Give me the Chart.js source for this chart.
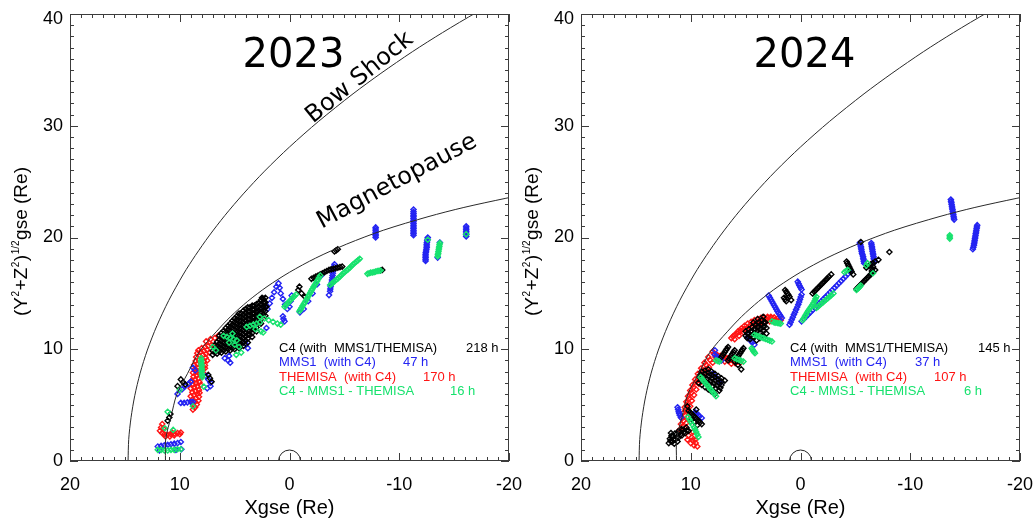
<!DOCTYPE html>
<html><head><meta charset="utf-8">
<script src="https://cdn.jsdelivr.net/npm/chart.js@4.4.0/dist/chart.umd.min.js"></script>
<style>
html,body{margin:0;padding:0;background:#fff;}
#wrap{position:relative;width:1035px;height:531px;overflow:hidden;background:#fff;}
.c{position:absolute;top:0;}
</style></head><body>
<div id="wrap">
<canvas id="c2023" class="c" width="535" height="531" style="left:0"></canvas>
<canvas id="c2024" class="c" width="524" height="531" style="left:511px"></canvas>
</div>
<script>
// ---------- data ----------
const xTickValues = [20, 10, 0, -10, -20];
const yTickValues = [0, 10, 20, 30, 40];
const xRange = [-20, 20];
const yRange = [0, 40];
const earthRadius = 1;
const years = ['2023', '2024'];
const seriesNames = ['C4 (with  MMS1/THEMISA)', 'MMS1  (with C4)', 'THEMISA  (with C4)', 'C4 - MMS1 - THEMISA'];
const hours2023 = [218, 47, 170, 16];
const hours2024 = [145, 37, 107, 6];

const bowShock = [[14.71,0],[14.65,1.93],[14.44,3.87],[14.1,5.84],[13.61,7.86],[12.95,9.93],[12.09,12.09],[11.01,14.35],[9.66,16.73],[8.58,18.39],[7.33,20.14],[5.89,21.97],[4.21,23.9],[2.27,25.94],[0,28.1],[-2.66,30.4],[-5.79,32.86],[-8.33,34.69],[-11.19,36.62],[-13.95,38.34],[-17.04,40.14],[-20.49,42.02]];
const magnetopause = [[11.3,0],[11.28,1.99],[10.8,3.93],[10.28,5.93],[9.3,7.81],[8.21,9.79],[6.68,11.56],[5.36,12.93],[3.82,14.28],[2.05,15.6],[0,16.89],[-2.39,18.16],[-5.21,19.41],[-8.55,20.65],[-12.62,21.86],[-15.89,22.69],[-19.72,23.51],[-21.46,23.84]];

const c4_2023 = [[11.1,3.6],[10.95,3.9],[10.85,4.2],[9.9,7.3],[9.7,7.05],[9.5,6.85],[10.2,6.7],[7.4,7.7],[7.25,7.4],[7.1,7.1],
[7.0,9.5],[7.0,9.85],[6.8,9.7],[6.8,10.05],[6.8,10.4],[6.6,9.6],[6.6,9.95],[6.6,10.3],[6.6,10.65],
[6.4,9.8],[6.4,10.15],[6.4,10.5],[6.4,10.85],[6.4,11.2],
[6.2,9.7],[6.2,10.05],[6.2,10.4],[6.2,10.75],[6.2,11.1],[6.2,11.45],
[6.0,9.9],[6.0,10.25],[6.0,10.6],[6.0,10.95],[6.0,11.3],[6.0,11.65],
[5.8,9.8],[5.8,10.15],[5.8,10.5],[5.8,10.85],[5.8,11.2],[5.8,11.55],[5.8,11.9],
[5.6,10.0],[5.6,10.35],[5.6,10.7],[5.6,11.05],[5.6,11.4],[5.6,11.75],[5.6,12.1],
[5.4,9.9],[5.4,10.25],[5.4,10.6],[5.4,10.95],[5.4,11.3],[5.4,11.65],[5.4,12.0],[5.4,12.3],
[5.2,10.1],[5.2,10.45],[5.2,10.8],[5.2,11.15],[5.2,11.5],[5.2,11.85],[5.2,12.2],[5.2,12.55],
[5.0,10.0],[5.0,10.35],[5.0,10.7],[5.0,11.05],[5.0,11.4],[5.0,11.75],[5.0,12.1],[5.0,12.45],[5.0,12.75],
[4.8,10.2],[4.8,10.55],[4.8,10.9],[4.8,11.25],[4.8,11.6],[4.8,11.95],[4.8,12.3],[4.8,12.65],[4.8,12.95],
[4.6,10.1],[4.6,10.45],[4.6,10.8],[4.6,11.15],[4.6,11.5],[4.6,11.85],[4.6,12.2],[4.6,12.55],[4.6,12.9],[4.6,13.2],
[4.4,10.4],[4.4,10.75],[4.4,11.1],[4.4,11.45],[4.4,11.8],[4.4,12.15],[4.4,12.5],[4.4,12.85],[4.4,13.2],
[4.2,10.3],[4.2,10.65],[4.2,11.0],[4.2,11.35],[4.2,11.7],[4.2,12.05],[4.2,12.4],[4.2,12.75],[4.2,13.1],[4.2,13.45],
[4.0,10.8],[4.0,11.15],[4.0,11.5],[4.0,11.85],[4.0,12.2],[4.0,12.55],[4.0,12.9],[4.0,13.25],[4.0,13.6],
[3.8,10.6],[3.8,10.95],[3.8,11.3],[3.8,11.65],[3.8,12.0],[3.8,12.35],[3.8,12.7],[3.8,13.05],[3.8,13.4],[3.8,13.75],
[3.6,11.3],[3.6,11.65],[3.6,12.0],[3.6,12.35],[3.6,12.7],[3.6,13.05],[3.6,13.4],[3.6,13.75],
[3.4,11.1],[3.4,11.45],[3.4,11.8],[3.4,12.15],[3.4,12.5],[3.4,12.85],[3.4,13.2],[3.4,13.55],[3.4,13.9],
[3.2,11.8],[3.2,12.15],[3.2,12.5],[3.2,12.85],[3.2,13.2],[3.2,13.55],[3.2,13.9],
[3.0,11.6],[3.0,11.95],[3.0,12.3],[3.0,12.65],[3.0,13.0],[3.0,13.35],[3.0,13.7],[3.0,14.05],
[2.8,12.4],[2.8,12.75],[2.8,13.1],[2.8,13.45],[2.8,13.8],[2.8,14.15],
[2.6,12.3],[2.6,12.65],[2.6,13.0],[2.6,13.35],[2.6,13.7],[2.6,14.05],[2.6,14.4],
[2.4,13.1],[2.4,13.45],[2.4,13.8],[2.4,14.15],[2.4,14.5],
[2.2,13.0],[2.2,13.4],[2.2,13.8],[2.2,14.2],[2.2,14.6],
[2.5,14.6],[2.3,14.2],[2.1,13.8],
[-0.8,15.3],[-1.1,15.0],[-1.4,14.7],[-0.9,15.6],
[-2.0,16.3],[-2.2,16.4],[-2.4,16.5],[-2.6,16.6],[-2.8,16.7],[-3.0,16.8],[-3.2,16.9],[-3.4,17.0],[-3.6,17.1],[-3.8,17.15],[-4.0,17.2],[-4.2,17.25],[-4.4,17.3],[-4.6,17.35],[-4.8,17.4],
[-4.1,18.75],[-4.25,18.85],[-4.4,18.95],[-8.3,17.05],[-8.45,17.1]];

const mms1_2023 = [[12.0,1.3],[11.7,1.35],[11.4,1.4],[11.1,1.45],[10.8,1.5],[10.5,1.55],[10.2,1.6],[9.9,1.7],[11.85,0.95],[10.35,1.0],[9.85,1.05],
[9.9,5.2],[9.6,5.2],[9.3,5.25],[9.0,5.3],[8.8,5.3],
[10.2,6.0],[9.8,6.4],[9.5,6.7],[9.2,6.9],[9.0,7.1],[8.8,8.35],[8.6,8.1],
[7.6,7.6],[7.4,7.3],[7.2,7.0],[7.2,6.7],[7.5,6.5],
[5.9,9.2],[5.6,9.0],[5.4,8.8],[5.5,9.4],[3.8,10.1],[4.0,10.5],[2.1,11.9],[3.0,13.4],[2.4,13.8],
[2.0,13.6],[1.8,14.1],[1.6,14.6],[1.4,15.1],[1.2,15.6],[1.0,15.9],[0.9,15.5],[0.8,15.0],[0.6,14.5],[0.4,14.0],[0.2,13.6],[0.0,13.8],[-0.1,14.3],[-0.2,14.8],[0.6,12.95],[0.55,12.7],[0.45,12.5],
[-4.1,17.6],[-4.05,17.4],[-4.0,17.2],[-3.97,17.0],[-3.95,16.8],[-3.92,16.6],[-3.9,16.4],[-3.87,16.2],[-3.85,16.0],[-3.8,15.8],[-3.75,15.6],[-3.72,15.4],[-3.7,15.2],[-3.6,14.85],
[-2.9,16.6],[-2.5,15.8],[-2.1,15.0],[-1.7,14.3],[-1.3,13.6],[-0.95,13.3],
[-7.85,20.0],[-7.85,20.15],[-7.85,20.3],[-7.85,20.45],[-7.85,20.6],[-7.85,20.75],[-7.85,20.9],
[-11.3,20.2],[-11.3,20.35],[-11.3,20.5],[-11.3,20.65],[-11.3,20.8],[-11.3,20.95],[-11.3,21.1],[-11.3,21.25],[-11.3,21.4],[-11.3,21.55],[-11.3,21.7],[-11.3,21.85],[-11.3,22.0],[-11.3,22.15],[-11.3,22.3],[-11.3,22.5],
[-12.6,20.0],[-12.57,19.85],[-12.55,19.7],[-12.52,19.55],[-12.5,19.4],[-12.5,19.25],[-12.5,19.1],[-12.47,18.95],[-12.45,18.8],[-12.42,18.65],[-12.4,18.5],[-12.4,18.35],[-12.4,18.2],[-12.4,18.05],[-12.4,17.9],
[-13.7,19.55],[-13.5,18.2],
[-16.1,21.0],[-16.1,20.85],[-16.1,20.7],[-16.1,20.55],[-16.1,20.4],[-16.1,20.25],[-16.1,20.1]];

const themisa_2023 = [[11.8,2.7],[11.6,2.5],[11.4,2.4],[11.1,2.35],[10.8,2.4],[10.5,2.45],[10.2,2.5],[9.9,2.55],[11.7,3.0],[11.6,3.3],[11.5,2.9],[11.3,2.2],[10.9,2.2],[10.5,2.3],[10.7,2.55],[10.0,2.4],
[8.8,4.6],[8.6,4.8],[8.75,4.9],[8.45,5.05],[8.9,5.2],[8.6,5.3],[8.3,5.4],
[8.85,5.5],[8.55,5.6],[8.25,5.75],[9.0,5.8],[8.7,5.9],[8.4,6.0],[8.2,6.1],
[8.85,6.15],[8.55,6.25],[8.25,6.35],[9.0,6.5],[8.7,6.6],[8.4,6.7],[8.1,6.8],
[8.8,6.85],[8.5,6.95],[8.2,7.05],[8.9,7.2],[8.6,7.3],[8.3,7.4],[8.0,7.5],
[8.75,7.55],[8.45,7.65],[8.15,7.75],[7.85,7.85],[8.8,7.9],[8.5,8.0],[8.2,8.1],[7.9,8.2],[7.7,8.3],
[8.6,8.25],[8.3,8.35],[8.0,8.45],[7.7,8.55],[8.7,8.6],[8.4,8.7],[8.1,8.8],[7.8,8.9],[7.5,9.0],
[8.55,8.95],[8.25,9.05],[7.95,9.15],[7.65,9.25],[8.5,9.3],[8.2,9.4],[7.9,9.5],[7.6,9.6],[7.3,9.7],
[8.4,9.65],[8.1,9.75],[7.8,9.85],[7.5,9.95],[8.3,9.9],[8.0,10.1],[7.7,10.2],[7.4,10.3],[7.1,10.4],
[7.6,10.7],[7.2,10.9],[6.8,11.0],[6.5,11.2]];

const all3_2023 = [[12.0,1.0],[11.7,1.0],[11.4,0.95],[11.1,0.95],[10.8,1.0],[10.5,1.0],[10.2,1.05],[9.9,1.05],
[11.36,2.93],[10.6,2.78],[11.1,4.4],[10.0,6.36],[8.8,4.9],
[8.05,9.2],[8.05,9.0],[8.05,8.85],[8.02,8.65],[8.0,8.5],[8.0,8.3],[8.0,8.15],[8.0,8.0],[8.0,7.8],[7.97,7.65],[7.95,7.5],[7.8,6.65],[7.0,10.2],
[6.0,11.2],[5.7,11.1],[5.4,11.0],[5.1,10.9],[4.8,10.8],[5.5,10.6],[5.0,10.4],[4.6,10.2],[5.2,11.4],
[3.9,12.0],[3.6,12.1],[3.3,12.2],[3.0,12.3],[2.7,12.4],[3.1,11.8],[2.6,11.6],[2.4,11.5],
[2.7,12.9],[2.3,12.75],[1.9,12.6],[1.5,12.45],[1.1,12.3],[0.8,12.2],
[4.85,9.5],[4.4,9.7],[6.7,9.9],
[-6.4,18.1],[-6.25,17.97],[-6.1,17.85],[-5.95,17.72],[-5.8,17.6],[-5.65,17.45],[-5.5,17.3],[-5.35,17.17],[-5.2,17.05],[-5.05,16.92],[-4.9,16.8],[-4.75,16.65],[-4.6,16.5],[-4.45,16.37],[-4.3,16.25],[-4.15,16.12],[-4.0,16.0],[-3.85,15.87],[-3.7,15.75],
[-2.8,16.6],[-2.7,16.42],[-2.6,16.25],[-2.5,16.07],[-2.4,15.9],[-2.3,15.75],[-2.2,15.6],[-2.1,15.42],[-2.0,15.25],[-1.9,15.07],[-1.8,14.9],[-1.7,14.72],[-1.6,14.55],[-1.5,14.37],[-1.4,14.2],[-1.3,14.05],[-1.2,13.9],[-1.1,13.72],[-1.0,13.55],[-0.9,13.4],
[-0.6,14.9],[-0.45,14.75],[-0.3,14.6],[-0.15,14.45],[0.0,14.3],[0.12,14.17],[0.25,14.05],[0.35,13.92],[0.45,13.8],
[-7.1,16.75],[-7.25,16.8],[-7.4,16.85],[-7.55,16.87],[-7.7,16.9],[-7.85,16.95],[-8.0,17.0],[-8.15,17.02],[-8.3,17.05],
[-12.6,19.8],[-13.7,19.5],[-13.67,19.35],[-13.65,19.2],[-13.62,19.05],[-13.6,18.9],[-13.57,18.75],[-13.55,18.6],[-13.52,18.45],[-13.5,18.3],[-16.1,20.3]];

const c4_2024 = [[12.0,1.6],[11.7,1.7],[11.4,1.9],[11.1,2.1],[10.8,2.3],[10.5,2.5],[10.2,2.7],[11.9,2.0],[11.6,2.2],[11.3,2.4],[11.0,2.6],[10.7,2.8],[10.4,3.0],[11.5,1.55],[11.2,1.75],[11.8,2.5],
[11.85,1.8],[11.55,1.95],[11.25,2.15],[10.95,2.35],[10.65,2.55],[10.35,2.75],[11.75,2.25],[11.45,2.45],[11.15,2.65],[10.85,2.85],
[10.2,4.5],[9.9,4.2],[9.6,3.9],[9.3,3.6],[9.0,3.3],[10.0,3.8],[9.7,3.5],[9.4,3.2],[10.3,4.9],[9.5,4.6],[10.05,4.35],[9.75,4.05],[9.45,3.75],[9.15,3.45],
[9.2,7.5],[8.9,7.3],[8.6,7.1],[8.3,6.9],[8.0,6.7],[7.7,6.5],[7.4,6.3],
[9.0,8.0],[8.7,7.8],[8.4,7.6],[8.1,7.4],[7.8,7.2],[7.5,7.0],[7.2,6.8],
[8.4,8.2],[8.1,8.0],[7.8,7.8],[7.5,7.6],[7.2,7.4],[6.9,7.2],
[9.3,7.0],[9.0,6.8],[8.7,6.6],[8.4,6.4],[8.1,6.2],[7.8,6.0],
[9.1,7.75],[8.8,7.55],[8.5,7.35],[8.2,7.15],[7.9,6.95],[7.6,6.75],[7.3,6.55],
[8.7,8.1],[8.4,7.9],[8.1,7.7],[7.8,7.5],[7.5,7.3],[7.2,7.1],
[7.2,9.3],[7.0,9.6],[6.8,9.9],[6.6,10.2],[6.6,9.0],[6.4,9.3],[6.2,9.6],[6.0,9.9],[6.0,8.9],[5.8,9.2],[5.6,9.5],[5.4,9.8],[5.2,10.1],[5.7,8.6],[5.4,8.2],
[7.1,9.45],[6.9,9.75],[6.7,10.05],[6.5,9.15],[6.3,9.45],[6.1,9.75],[5.9,9.05],[5.7,9.35],[5.5,9.65],[5.3,9.95],
[5.0,11.6],[4.7,11.8],[4.4,12.0],[4.1,12.2],[3.8,12.4],[3.5,12.6],[5.0,11.2],[4.7,11.4],[4.4,11.6],[4.1,11.8],[3.8,12.0],[3.5,12.2],[3.2,12.4],[4.6,10.9],[4.3,11.1],[4.0,11.3],[3.7,11.5],[3.4,11.7],[3.1,11.9],[4.0,10.8],[3.7,11.0],[3.4,11.2],[3.1,11.4],[4.3,12.4],[3.9,12.7],[3.4,12.9],
[4.85,11.4],[4.55,11.6],[4.25,11.8],[3.95,12.0],[3.65,12.2],[3.35,12.4],[4.85,11.0],[4.55,11.2],[4.25,11.4],[3.95,11.6],[3.65,11.8],[3.35,12.0],
[1.4,15.3],[1.3,15.15],[1.2,15.0],[1.1,14.85],[1.0,14.7],[0.85,14.4],[1.5,14.6],[1.4,14.45],[1.3,14.3],
[-1.1,15.0],[-1.25,15.15],[-1.4,15.3],[-1.55,15.45],[-1.7,15.6],[-1.85,15.75],[-2.0,15.9],[-2.15,16.05],[-2.3,16.2],[-2.45,16.35],[-2.6,16.5],[-2.8,16.7],
[-4.2,17.85],[-4.27,17.7],[-4.35,17.55],[-4.42,17.4],[-4.5,17.25],[-4.57,17.1],[-4.65,16.95],[-4.8,16.7],
[-5.1,15.4],[-5.25,15.55],[-5.4,15.7],[-5.55,15.85],[-5.7,16.0],[-5.85,16.15],[-6.0,16.3],[-6.15,16.45],[-6.3,16.6],[-6.45,16.75],[-6.6,16.9],[-6.8,17.1],
[-6.0,17.3],[-6.2,17.45],[-6.4,17.6],[-6.6,17.72],[-6.8,17.85],[-7.1,18.0],[-6.5,17.0],[-6.55,17.2],[-6.6,17.4],
[-5.5,19.6],[-8.1,18.7]];

const mms1_2024 = [[11.2,4.8],[11.15,4.6],[11.1,4.4],[11.05,4.25],[11.0,4.1],[10.9,3.9],
[9.6,4.35],[9.5,4.27],[9.4,4.2],[9.3,4.1],[9.2,4.0],[9.0,3.85],
[8.0,7.8],[7.6,7.4],[7.3,7.0],[7.8,9.5],[7.65,9.37],[7.5,9.25],[7.35,9.12],[7.2,9.0],[7.8,9.9],
[4.8,11.1],[4.7,10.97],[4.6,10.85],[4.5,10.72],[4.4,10.6],[4.2,10.4],
[2.9,14.8],[2.8,14.62],[2.7,14.45],[2.6,14.27],[2.5,14.1],[2.4,13.92],[2.3,13.75],[2.2,13.57],[2.1,13.4],[2.0,13.25],[1.9,13.1],[1.8,12.95],[1.7,12.8],
[1.0,12.2],[0.9,12.42],[0.8,12.65],[0.7,12.87],[0.6,13.1],[0.5,13.32],[0.4,13.55],[0.3,13.77],[0.2,14.0],[0.12,14.22],[0.05,14.45],[-0.02,14.67],[-0.1,14.9],
[0.25,16.05],[0.17,15.87],[0.1,15.7],[0.0,15.52],[-0.1,15.35],
[-0.1,12.5],[-0.3,12.7],[-0.5,12.9],[-0.7,13.1],[-0.9,13.3],[-1.1,13.5],[-1.3,13.7],[-1.5,13.9],[-1.7,14.1],[-1.9,14.3],[-2.1,14.5],[-2.3,14.7],[-2.5,14.9],[-2.7,15.1],[-2.9,15.3],[-3.1,15.5],[-3.3,15.7],[-3.5,15.9],[-3.7,16.1],[-3.9,16.3],[-4.1,16.5],[-4.3,16.72],[-4.5,16.95],
[-5.4,19.5],[-5.45,19.35],[-5.5,19.2],[-5.52,19.05],[-5.55,18.9],[-5.57,18.75],[-5.6,18.6],[-5.65,18.45],[-5.7,18.3],[-5.72,18.15],[-5.75,18.0],[-5.77,17.85],[-5.8,17.7],
[-6.45,19.5],[-6.47,19.35],[-6.5,19.2],[-6.52,19.05],[-6.55,18.9],[-6.57,18.75],[-6.6,18.6],[-6.62,18.45],[-6.65,18.3],[-6.67,18.15],[-6.7,18.0],[-6.75,17.8],
[-13.7,23.4],[-13.72,23.25],[-13.75,23.1],[-13.77,22.95],[-13.8,22.8],[-13.82,22.65],[-13.85,22.5],[-13.87,22.35],[-13.9,22.2],[-13.92,22.05],[-13.95,21.9],[-13.97,21.75],[-14.0,21.6],
[-16.1,21.1],[-16.07,20.95],[-16.05,20.8],[-16.02,20.65],[-16.0,20.5],[-15.97,20.35],[-15.95,20.2],[-15.92,20.05],[-15.9,19.9],[-15.87,19.75],[-15.85,19.6],[-15.82,19.45],[-15.8,19.3],[-15.75,19.12],[-15.7,18.95]];

const themisa_2024 = [[10.2,2.3],[9.9,2.1],[9.6,1.9],[10.0,1.6],[9.7,1.4],[9.4,1.3],[10.3,1.9],[9.8,2.6],[9.85,1.85],[9.55,1.6],
[11.0,2.8],[10.9,3.3],[10.8,3.8],[10.7,4.3],[10.55,4.8],[10.4,5.3],[10.25,5.8],[10.05,6.3],[9.85,6.8],[9.6,7.3],[9.35,7.8],[9.05,8.3],[8.75,8.8],[8.4,9.3],[8.0,9.8],
[10.75,3.1],[10.65,3.6],[10.55,4.1],[10.45,4.6],[10.3,5.1],[10.15,5.6],[9.95,6.1],[9.75,6.6],[9.5,7.1],[9.25,7.6],[8.95,8.1],[8.6,8.6],[8.25,9.05],
[10.5,2.9],[10.4,3.4],[10.3,3.9],[10.2,4.4],[10.05,4.9],[9.9,5.4],[9.7,5.9],[9.5,6.4],[9.25,6.9],[9.0,7.4],[8.7,7.9],[8.35,8.4],[8.0,8.8],
[7.9,9.6],[7.6,9.5],[7.3,9.4],[7.0,9.3],[6.7,9.2],[6.4,9.1],[6.1,9.0],[5.8,8.9],[5.5,8.8],[7.5,9.1],[6.9,8.9],[6.3,8.7],[7.75,9.3],[7.15,9.1],[6.55,8.95],[5.95,8.75],
[6.3,11.0],[6.0,11.3],[5.7,11.6],[5.4,11.85],[5.1,12.1],[4.8,12.3],[4.5,12.45],[4.2,12.6],[3.9,12.7],[3.6,12.8],[3.3,12.85],[3.0,12.9],[2.7,12.9],[2.4,12.85],[2.1,12.75],[1.8,12.6],
[6.15,11.15],[5.8,11.4],[5.45,11.65],[5.1,11.85],[4.7,12.05],[4.3,12.3],[3.9,12.45],[3.5,12.6],[3.1,12.7],[2.7,12.7],[2.3,12.65],[2.0,12.55],
[6.0,10.9],[5.6,11.2],[5.2,11.5],[4.8,11.8],[4.4,12.0],[4.0,12.2],[3.6,12.35],[3.2,12.45],[2.8,12.5],[2.4,12.45]];

const all3_2024 = [[1.8,12.3],[1.95,12.32],[2.1,12.35],[2.25,12.37],[2.4,12.4],[2.6,12.5],
[-0.2,12.6],[-0.3,12.77],[-0.4,12.95],[-0.5,13.12],[-0.6,13.3],[-0.72,13.47],[-0.85,13.65],[-0.97,13.82],[-1.1,14.0],[-1.2,14.17],[-1.3,14.35],[-1.37,14.52],[-1.45,14.7],
[-1.45,13.7],[-1.6,13.82],[-1.75,13.95],[-1.9,14.07],[-2.05,14.2],[-2.2,14.32],[-2.35,14.45],[-2.5,14.57],[-2.65,14.7],[-2.82,14.85],[-3.0,15.0],
[-4.0,16.9],[-4.15,17.0],[-4.3,17.1],[-5.1,15.3],[-5.2,15.4],[-5.3,15.5],[-5.4,15.6],[-5.5,15.7],
[-6.0,17.5],[-6.1,17.7],[-6.6,16.8],[-13.6,20.2],[-13.6,20.05],[-13.6,19.9],
[9.1,7.5],[8.97,7.35],[8.85,7.2],[8.72,7.05],[8.6,6.9],[8.47,6.75],[8.35,6.6],[8.22,6.45],[8.1,6.3],[7.97,6.15],[7.85,6.0],[7.7,5.8],
[10.25,3.95],[10.12,3.72],[10.0,3.5],[9.85,3.25],[9.7,3.0],[9.6,2.8],[9.5,2.6],[9.4,2.37],[9.3,2.15],
[6.0,9.2],[5.8,9.12],[5.6,9.05],[5.4,8.97],[5.2,8.9],[4.45,10.1],[4.37,9.97],[4.3,9.85],[4.22,9.75],[4.15,9.65],
[4.2,11.3],[4.0,11.22],[3.8,11.15],[3.6,11.07],[3.4,11.0],[3.2,10.92],[3.0,10.85],[2.8,10.77],[2.6,10.7],[7.7,9.0],[7.55,8.95],[7.4,8.9]];

// ---------- styles ----------
const seriesColors = ['#000000', '#2424f2', '#ff1414', '#17e26e'];
const LABEL_FONT = '"Liberation Sans", Arial, Helvetica, sans-serif';
const TITLE_FONT = '"DejaVu Sans", Verdana, sans-serif';

function pts(a) { return a.map(p => ({x: p[0], y: p[1]})); }
function scatterSet(label, arr, color) {
  return { label, data: pts(arr), showLine: false, pointStyle: 'rectRot', pointRadius: 2.6, pointHoverRadius: 2.6,
    pointBorderWidth: 1.4, borderColor: color, backgroundColor: 'rgba(0,0,0,0)' };
}
function curveSet(label, arr) {
  return { label, data: pts(arr), showLine: true, borderColor: '#2a2a2a', borderWidth: 1, pointRadius: 0, pointHoverRadius: 0, tension: 0.3, fill: false };
}

const panelDeco = {
  id: 'panelDeco',
  afterDatasetsDraw(chart, args, o) {
    const ctx = chart.ctx, a = chart.chartArea, xs = chart.scales.x, ys = chart.scales.y;
    ctx.save();
    const ex = xs.getPixelForValue(0), ey = ys.getPixelForValue(0);
    const er = Math.abs(xs.getPixelForValue(earthRadius) - ex);
    ctx.strokeStyle = '#222'; ctx.lineWidth = 1;
    ctx.beginPath(); ctx.arc(ex, ey, er, Math.PI, 2 * Math.PI); ctx.stroke();
    ctx.strokeStyle = '#3c3c3c';
    ctx.strokeRect(a.left + 0.5, a.top + 0.5, a.right - a.left - 1, a.bottom - a.top - 1);
    ctx.beginPath();
    for (let v = xRange[0]; v <= xRange[1]; v += 1) {
      const px = Math.round(xs.getPixelForValue(v)) + 0.5;
      const len = (v % 10 === 0) ? 8 : 4;
      ctx.moveTo(px, a.bottom); ctx.lineTo(px, a.bottom - len);
      ctx.moveTo(px, a.top); ctx.lineTo(px, a.top + len);
    }
    for (let v = yRange[0]; v <= yRange[1]; v += 1) {
      const py = Math.round(ys.getPixelForValue(v)) + 0.5;
      const len = (v % 10 === 0) ? 8 : 4;
      ctx.moveTo(a.left, py); ctx.lineTo(a.left + len, py);
      ctx.moveTo(a.right, py); ctx.lineTo(a.right - len, py);
    }
    ctx.stroke();
    ctx.fillStyle = '#000';
    ctx.font = '18px ' + LABEL_FONT;
    ctx.textAlign = 'center'; ctx.textBaseline = 'middle';
    xTickValues.forEach(v => ctx.fillText(String(v), xs.getPixelForValue(v), a.bottom + 24));
    ctx.textAlign = 'right';
    yTickValues.forEach(v => ctx.fillText(String(v), a.left - 7, ys.getPixelForValue(v) + (v === yRange[1] ? 5 : 0)));
    ctx.textAlign = 'center';
    ctx.font = '20px ' + LABEL_FONT;
    ctx.fillText('Xgse (Re)', (a.left + a.right) / 2, a.bottom + 47);
    const parts = [['(Y', 0], ['2', 1], ['+Z', 0], ['2', 1], [')', 0], ['1/2', 1], ['gse (Re)', 0]];
    const big = '19px ' + LABEL_FONT, small = '10px ' + LABEL_FONT;
    let tw = 0;
    parts.forEach(p => { ctx.font = p[1] ? small : big; tw += ctx.measureText(p[0]).width + (p[1] ? 1 : 0); });
    ctx.save();
    ctx.translate(a.left - 50, (a.top + a.bottom) / 2 + 4);
    ctx.rotate(-Math.PI / 2);
    ctx.textAlign = 'left'; ctx.textBaseline = 'alphabetic';
    let cx = -tw / 2;
    parts.forEach(p => {
      ctx.font = p[1] ? small : big;
      ctx.fillText(p[0], cx + (p[1] ? 0.5 : 0), p[1] ? -1 : 7);
      cx += ctx.measureText(p[0]).width + (p[1] ? 1 : 0);
    });
    ctx.restore();
    ctx.font = '40px ' + TITLE_FONT;
    ctx.textAlign = 'center'; ctx.textBaseline = 'middle';
    ctx.fillText(o.year, ex + 4, 57);
    if (o.names) {
      ctx.font = '24px ' + TITLE_FONT;
      o.names.forEach(n => {
        ctx.save();
        ctx.translate(xs.getPixelForValue(n.x), ys.getPixelForValue(n.y));
        ctx.rotate(n.rot * Math.PI / 180);
        ctx.fillText(n.text, 0, 0);
        ctx.restore();
      });
    }
    ctx.font = '13px ' + LABEL_FONT;
    ctx.textAlign = 'left';
    seriesNames.forEach((s, i) => {
      const y = 348 + i * 14.5;
      ctx.fillStyle = seriesColors[i];
      ctx.fillText(s, a.left + 209, y);
      ctx.fillText(o.hours[i] + ' h', a.left + o.hx[i], y);
    });
    ctx.restore();
  }
};

function makeChart(id, year, sets, hours, hx, names) {
  return new Chart(document.getElementById(id), {
    type: 'scatter',
    data: { datasets: [
      curveSet('Magnetopause', magnetopause),
      curveSet('Bow Shock', bowShock),
      scatterSet(seriesNames[3], sets[3], seriesColors[3]),
      scatterSet(seriesNames[0], sets[0], seriesColors[0]),
      scatterSet(seriesNames[1], sets[1], seriesColors[1]),
      scatterSet(seriesNames[2], sets[2], seriesColors[2])
    ]},
    options: {
      responsive: false, animation: false, devicePixelRatio: 1,
      layout: { padding: { left: 70, top: 14, right: (id === 'c2023' ? 26 : 15), bottom: 70 } },
      scales: {
        x: { type: 'linear', min: xRange[0], max: xRange[1], reverse: true, display: false },
        y: { type: 'linear', min: yRange[0], max: yRange[1], display: false }
      },
      plugins: { legend: { display: false }, tooltip: { enabled: false },
        panelDeco: { year, hours, hx, names } },
      events: []
    },
    plugins: [panelDeco]
  });
}

makeChart('c2023', years[0], [c4_2023, mms1_2023, themisa_2023, all3_2023], hours2023, [396, 333, 353, 380],
  [{text: 'Bow Shock', x: -6.4, y: 34.3, rot: -39}, {text: 'Magnetopause', x: -9.8, y: 25.0, rot: -28}]);
makeChart('c2024', years[1], [c4_2024, mms1_2024, themisa_2024, all3_2024], hours2024, [397, 334, 353, 383], null);
</script>
</body></html>
